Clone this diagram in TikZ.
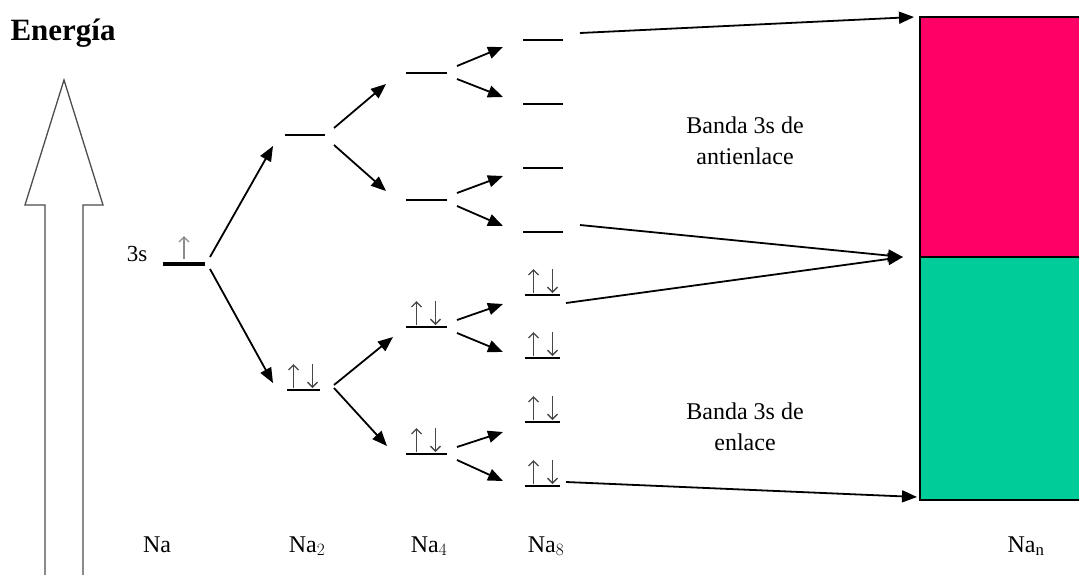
\documentclass[tikz,border=0pt]{standalone}
\usepackage{fontspec}
\setmainfont{Liberation Serif}
\usetikzlibrary{arrows.meta}
\begin{document}
\begin{tikzpicture}[x=1pt,y=-1pt,
  conn/.style={line width=1.8pt,-{Triangle[length=15pt,width=12pt]}},
  lvl/.style={line width=1.8pt},
  spin/.style={line width=1.4pt,black!72,-{Straight Barb[length=5pt,width=10pt]}},
  lbl/.style={font=\fontsize{24}{31}\selectfont,align=center},
  pics/pair/.style={code={
    \draw[spin] (-9.5,-2) -- (-9.5,-26);
    \draw[spin] (9.5,-26) -- (9.5,-2);}}]
\useasboundingbox (0,0) rectangle (1079,574);
% energy arrow
\draw[line width=1.3pt,black!70] (45,585) -- (45,205) -- (25,205) -- (64,80) -- (103,205) -- (83,205) -- (83,585);
\node[anchor=west,font=\bfseries\fontsize{31}{31}\selectfont] (en) at (7,33) {Energía};
% band rectangle
\fill[fill={rgb,255:red,255;green,0;blue,102}] (920,17) rectangle (1085,257);
\fill[fill={rgb,255:red,0;green,204;blue,153}] (920,257) rectangle (1085,500);
\draw[line width=1.3pt] (1085,17) -- (920,17) -- (920,500) -- (1085,500);
\draw[line width=1.3pt] (920,257) -- (1085,257);
\coordinate (bt) at (914,17);
\coordinate (bm) at (903,257);
\coordinate (bb) at (917,497);
% Na
\node[lbl,font=\fontsize{23}{23}\selectfont] (l3s) at (137,254) {3s};
\draw[line width=3.2pt] (163,264) -- (205,264);
\draw[line width=1.4pt,black!45,-{Straight Barb[length=5pt,width=10pt]}] (184,259) -- (184,236);
\coordinate (na1) at (210,257);
\coordinate (na2) at (210,269);
% Na2 levels
\draw[lvl] (285,135) -- (325,135);
\draw[lvl] (287,390) -- (320,390);
\pic at (303,390) {pair};
\coordinate (n2u) at (273,146);
\coordinate (n2l) at (273,383);
\coordinate (n2ua) at (334,128);
\coordinate (n2ub) at (334,145);
\coordinate (n2la) at (334,385);
\coordinate (n2lb) at (334,388);
\draw[conn] (na1) -- (n2u);
\draw[conn] (na2) -- (n2l);
% Na4 levels
\foreach \y/\n in {73/a,200/b,327/c,454/d}{
  \draw[lvl] (406,\y) -- (447,\y);
  \coordinate (f\n1) at (457,\y-7);
  \coordinate (f\n2) at (457,\y+6);
}
\pic at (426,327) {pair};
\pic at (426,454) {pair};
\coordinate (t4a) at (386,84);
\coordinate (t4b) at (386,191);
\coordinate (t4c) at (393,337);
\coordinate (t4d) at (387,446);
\draw[conn] (n2ua) -- (t4a);
\draw[conn] (n2ub) -- (t4b);
\draw[conn] (n2la) -- (t4c);
\draw[conn] (n2lb) -- (t4d);
% Na8 levels
\foreach \y in {40,104,168,232}{
  \draw[lvl] (523,\y) -- (563,\y);
}
\foreach \y in {295,358,422,486}{
  \draw[lvl] (525,\y) -- (560,\y);
  \pic at (543,\y) {pair};
}
\foreach \n/\ya/\yb in {a/47/97,b/176/226,c/304/352,d/432/481}{
  \coordinate (g\n1) at (503,\ya);
  \coordinate (g\n2) at (503,\yb);
  \draw[conn] (f\n1) -- (g\n1);
  \draw[conn] (f\n2) -- (g\n2);
}
% long arrows
\coordinate (s1) at (580,33);
\coordinate (s2) at (580,225);
\coordinate (s3) at (566,303);
\coordinate (s4) at (566,482);
\draw[conn] (s1) -- (bt);
\draw[conn] (s2) -- (bm);
\draw[conn] (s3) -- (bm);
\draw[conn] (s4) -- (bb);
% band labels
\node[lbl] (ba) at (745,141) {Banda 3s de\\antienlace};
\node[lbl] (bl) at (745,427) {Banda 3s de\\enlace};
% bottom labels
\node[lbl,anchor=base] (x1) at (157,552) {Na};
\node[lbl,anchor=base] (x2) at (307,552) {Na$_2$};
\node[lbl,anchor=base] (x4) at (429,552) {Na$_4$};
\node[lbl,anchor=base] (x8) at (546,552) {Na$_8$};
\node[lbl,anchor=base] (xn) at (1026,552) {Na$_\mathrm{n}$};
\end{tikzpicture}
\end{document}
